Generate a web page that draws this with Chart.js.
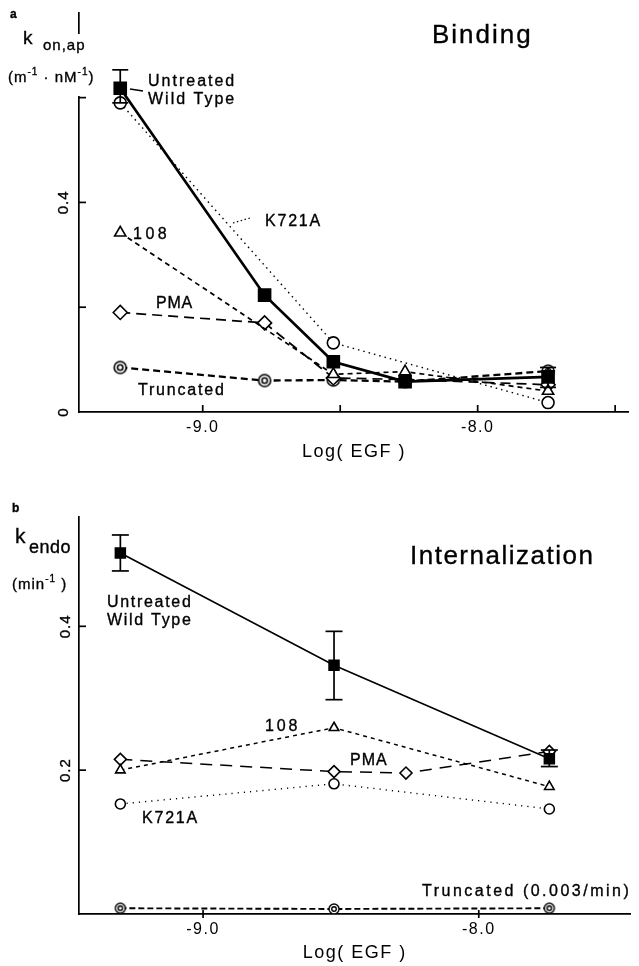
<!DOCTYPE html>
<html><head><meta charset="utf-8">
<script src="https://cdn.jsdelivr.net/npm/chart.js@4/dist/chart.umd.min.js"></script>
<style>
html,body{margin:0;padding:0;background:#fff;}
#wrap{position:relative;width:639px;height:966px;overflow:hidden;background:#fff}
canvas{position:absolute;left:0}
</style></head><body>
<div id="wrap">
<canvas id="ca" width="639" height="470" style="top:0;width:639px;height:470px"></canvas>
<canvas id="cb" width="639" height="496" style="top:470px;width:639px;height:496px"></canvas>
</div>
<script>
// ---------- DATA ----------
// Panel a: Binding (k on,ap)
const xA     = [-9.3, -8.775, -8.525, -8.264, -7.744];
const wtA    = [0.618, 0.223, 0.096, 0.058, 0.067];
const wtLoA  = [0.590, null, null, null, 0.047];
const wtHiA  = [0.653, null, null, null, 0.085];
const k721aA = [0.590, null, 0.132, null, 0.018];
const m108A  = [0.342, null, 0.072, 0.077, 0.040];
const pmaA   = [0.190, 0.170, 0.065, 0.062, 0.052];
const truncA = [0.085, 0.060, 0.061, 0.058, 0.078];

// Panel b: Internalization (k endo)
const xB     = [-9.3, -8.525, -8.264, -7.744];
const wtB    = [0.502, 0.346, null, 0.216];
const wtLoB  = [0.477, 0.298, null, 0.205];
const wtHiB  = [0.527, 0.393, null, 0.228];
const m108B  = [0.200, 0.259, null, 0.177];
const pmaB   = [0.215, 0.198, 0.196, 0.226];
const k721aB = [0.153, 0.181, null, 0.146];
const truncB = [0.008, 0.007, null, 0.008];

// Axes
const xRange       = [-9.45, -7.45];
const xTicksA      = [-9.0, -8.5, -8.0, -7.5];
const xTickLabelsA = ['-9.0', '', '-8.0', ''];
const xTicksB      = [-9.0, -8.0];
const xTickLabelsB = ['-9.0', '-8.0'];
const yRangeA      = [0, 0.7615];
const yRangeB      = [0, 0.552];
const yTicksA      = [0.2, 0.4, 0.6];
const yLabelValsA  = [0, 0.4];
const yLabelsA     = ['0', '0.4'];
const yTicksB      = [0.2, 0.4];
const yLabelValsB  = [0.2, 0.4];
const yLabelsB     = ['0.2', '0.4'];
const xTitle       = 'Log( EGF )';

// ---------- HELPERS ----------
const FAM = '"Liberation Sans", Arial, Helvetica, sans-serif';
Chart.defaults.font.family = FAM;
Chart.defaults.color = '#000';

function pts(xs, ys){ return xs.map((x,i)=> ys[i]==null ? null : {x:x, y:ys[i]}).filter(p=>p); }
function errs(xs, lo, hi){ return xs.map((x,i)=> lo[i]==null ? null : {x:x, lo:lo[i], hi:hi[i]}).filter(p=>p); }

function dblCircle(r, lw){
  const s = Math.ceil(2*r + lw + 2);
  const c = document.createElement('canvas'); c.width = s; c.height = s;
  const g = c.getContext('2d');
  g.fillStyle = '#fff'; g.strokeStyle = '#000'; g.lineWidth = lw;
  g.beginPath(); g.arc(s/2, s/2, r, 0, 2*Math.PI); g.fill(); g.stroke();
  g.beginPath(); g.arc(s/2, s/2, r*0.45, 0, 2*Math.PI); g.stroke();
  return c;
}

function line(ctx, x1, y1, x2, y2){ ctx.beginPath(); ctx.moveTo(x1,y1); ctx.lineTo(x2,y2); ctx.stroke(); }

function txt(ctx, s, x, y, size, ls, opts){
  opts = opts || {};
  ctx.save();
  ctx.font = (opts.bold ? 'bold ' : '') + size + 'px ' + FAM;
  ctx.letterSpacing = (ls||0) + 'px';
  ctx.fillStyle = '#000';
  ctx.strokeStyle = '#000';
  ctx.lineWidth = 0.35;
  ctx.textBaseline = 'middle';
  ctx.textAlign = opts.align || 'left';
  ctx.fillText(s, x, y);
  ctx.strokeText(s, x, y);
  const w = ctx.measureText(s).width;
  ctx.restore();
  return w;
}
// rich text: segments [text, size, dy]
function rich(ctx, segs, x, y, ls){
  let cx = x;
  segs.forEach(sg => { cx += txt(ctx, sg[0], cx, y + (sg[2]||0), sg[1], ls); });
}
function rotTxt(ctx, s, x, y, size){
  ctx.save();
  ctx.font = size + 'px ' + FAM;
  ctx.letterSpacing = '1px';
  ctx.fillStyle = '#000';
  ctx.strokeStyle = '#000'; ctx.lineWidth = 0.35;
  ctx.translate(x, y); ctx.rotate(-Math.PI/2);
  ctx.textAlign = 'center'; ctx.textBaseline = 'middle';
  ctx.fillText(s, 0, 0); ctx.strokeText(s, 0, 0);
  ctx.restore();
}
function drawErr(ctx, x, y, list, cap){
  ctx.save(); ctx.strokeStyle = '#000'; ctx.lineWidth = 1.7;
  list.forEach(e => {
    const px = x.getPixelForValue(e.x), pl = y.getPixelForValue(e.lo), ph = y.getPixelForValue(e.hi);
    line(ctx, px, pl, px, ph);
    line(ctx, px-cap, ph, px+cap, ph);
    line(ctx, px-cap, pl, px+cap, pl);
  });
  ctx.restore();
}

function ds(data, style){
  return Object.assign({data:data, borderColor:'#000', pointBorderColor:'#000',
    pointBackgroundColor:'#fff', fill:false, tension:0, pointBorderWidth:1.6}, style);
}

function baseOptions(xTicks, xLabels, yRange, padTop, xH, titlePad){
  return {
    responsive:false, animation:false, devicePixelRatio:1,
    layout:{padding:{top:padTop, left:0, right:0, bottom:0}},
    plugins:{legend:{display:false}, tooltip:{enabled:false}},
    scales:{
      x:{type:'linear', min:xRange[0], max:xRange[1],
         grid:{display:false, drawTicks:false},
         border:{display:true, color:'#000', width:1.7},
         afterBuildTicks: s => { s.ticks = xTicks.map(v => ({value:v})); },
         afterFit: s => { s.height = xH; },
         ticks:{autoSkip:false, maxRotation:0, minRotation:0, padding:6,
                font:{size:16}, color:'#000',
                callback:(v,i)=> xLabels[i]},
         title:{display:true, text:xTitle, font:{size:18}, color:'#000',
                padding:{top:0, bottom:titlePad}}
      },
      y:{type:'linear', min:yRange[0], max:yRange[1],
         grid:{display:false, drawTicks:false},
         border:{display:true, color:'#000', width:1.7},
         ticks:{display:false},
         afterFit: s => { s.width = 79; }
      }
    }
  };
}

// ---------- PANEL A ----------
const annA = {
  id:'annA',
  beforeDraw(chart){ chart.ctx.letterSpacing = '1.5px'; },
  beforeDatasetsDraw(chart){ chart.ctx.letterSpacing = '0px'; },
  afterDraw(chart){
    const ctx = chart.ctx, x = chart.scales.x, y = chart.scales.y;
    ctx.save(); ctx.letterSpacing = '0px';
    ctx.strokeStyle = '#000'; ctx.lineWidth = 1.7;
    xTicksA.forEach(v => { const p = x.getPixelForValue(v); line(ctx, p, y.bottom, p, y.bottom-7); });
    yTicksA.forEach(v => { const p = y.getPixelForValue(v); line(ctx, x.left, p, x.left+7, p); });
    drawErr(ctx, x, y, errs(xA, wtLoA, wtHiA), 8);
    // break in the y axis behind the unit label
    ctx.fillStyle = '#fff'; ctx.fillRect(x.left-4, 34, 8, 62);
    // leader lines
    ctx.lineWidth = 1.5;
    line(ctx, 130, 89, 143, 91);
    ctx.setLineDash([1.5,2.5]); ctx.lineWidth = 1.2;
    line(ctx, 233, 223, 250, 218);
    ctx.setLineDash([]);
    ctx.restore();
    yLabelValsA.forEach((v,i) => rotTxt(ctx, yLabelsA[i], 64, y.getPixelForValue(v), 15));
    txt(ctx, 'a', 10, 15, 12, 0, {bold:true});
    txt(ctx, 'k', 23, 39, 19, 0);
    txt(ctx, 'on,ap', 43, 46, 15, 1);
    rich(ctx, [['(m',15],['-1',10,-6],[' \u00b7 nM',15],['-1',10,-6],[')',15]], 8, 78, 1);
    txt(ctx, 'Binding', 432, 36, 26, 2);
    txt(ctx, 'Untreated', 148, 82, 16, 2);
    txt(ctx, 'Wild Type', 148, 100, 16, 2);
    txt(ctx, 'K721A', 265, 222, 16, 1.8);
    txt(ctx, '108', 133, 235, 16, 3.5);
    txt(ctx, 'PMA', 156, 304, 16, 0.8);
    txt(ctx, 'Truncated', 138, 391, 16, 1.8);
  }
};

new Chart(document.getElementById('ca'), {
  type:'line',
  data:{datasets:[
    ds(pts(xA, wtA),    {borderWidth:2.7, pointStyle:'rect', pointRadius:8.5, pointBackgroundColor:'#000'}),
    ds(pts(xA, k721aA), {borderWidth:1.4, borderDash:[1.5,4], pointStyle:'circle', pointRadius:6}),
    ds(pts(xA, m108A),  {borderWidth:1.7, borderDash:[5,4], pointStyle:'triangle', pointRadius:6.5}),
    ds(pts(xA, pmaA),   {borderWidth:1.7, borderDash:[10,6], pointStyle:'rectRot', pointRadius:7}),
    ds(pts(xA, truncA), {borderWidth:2.3, borderDash:[7,4], pointStyle:dblCircle(6,1.6), pointRadius:6})
  ]},
  options: baseOptions(xTicksA, xTickLabelsA, yRangeA, 13, 58, 7),
  plugins:[annA]
});

// ---------- PANEL B ----------
const annB = {
  id:'annB',
  beforeDraw(chart){ chart.ctx.letterSpacing = '1.5px'; },
  beforeDatasetsDraw(chart){ chart.ctx.letterSpacing = '0px'; },
  afterDraw(chart){
    const ctx = chart.ctx, x = chart.scales.x, y = chart.scales.y;
    ctx.save(); ctx.letterSpacing = '0px';
    ctx.strokeStyle = '#000'; ctx.lineWidth = 1.7;
    xTicksB.forEach(v => { const p = x.getPixelForValue(v); line(ctx, p, y.bottom+4, p, y.bottom-4); });
    yTicksB.forEach(v => { const p = y.getPixelForValue(v); line(ctx, x.left, p, x.left+7, p); });
    drawErr(ctx, x, y, errs(xB, wtLoB, wtHiB), 8.5);
    ctx.restore();
    yLabelValsB.forEach((v,i) => rotTxt(ctx, yLabelsB[i], 66, y.getPixelForValue(v), 15));
    txt(ctx, 'b', 12, 39, 12, 0, {bold:true});
    txt(ctx, 'k', 15, 67, 21, 0);
    txt(ctx, 'endo', 29, 78, 18, 0.5);
    rich(ctx, [['(min',15],['-1',10,-6],[' )',15]], 12, 115, 1);
    txt(ctx, 'Internalization', 410, 87, 26, 1.5);
    txt(ctx, 'Untreated', 107, 133, 16, 1.7);
    txt(ctx, 'Wild Type', 107, 151, 16, 1.7);
    txt(ctx, '108', 265, 257, 16, 2.8);
    txt(ctx, 'PMA', 350, 291, 16, 1);
    txt(ctx, 'K721A', 142, 349, 16, 1.8);
    txt(ctx, 'Truncated (0.003/min)', 422, 422, 16, 2.5);
  }
};

new Chart(document.getElementById('cb'), {
  type:'line',
  data:{datasets:[
    ds(pts(xB, wtB),    {borderWidth:1.6, pointStyle:'rect', pointRadius:7, pointBackgroundColor:'#000'}),
    ds(pts(xB, m108B),  {borderWidth:1.5, borderDash:[4,4], pointStyle:'triangle', pointRadius:5.5}),
    ds(pts(xB, pmaB),   {borderWidth:1.5, borderDash:[12,8], pointStyle:'rectRot', pointRadius:6}),
    ds(pts(xB, k721aB), {borderWidth:1.4, borderDash:[1.2,5], pointStyle:'circle', pointRadius:5}),
    ds(pts(xB, truncB), {borderWidth:1.9, borderDash:[6,3], pointStyle:dblCircle(5,1.4), pointRadius:5})
  ]},
  options: baseOptions(xTicksB, xTickLabelsB, yRangeB, 47, 52, 2),
  plugins:[annB]
});
</script>
</body></html>
